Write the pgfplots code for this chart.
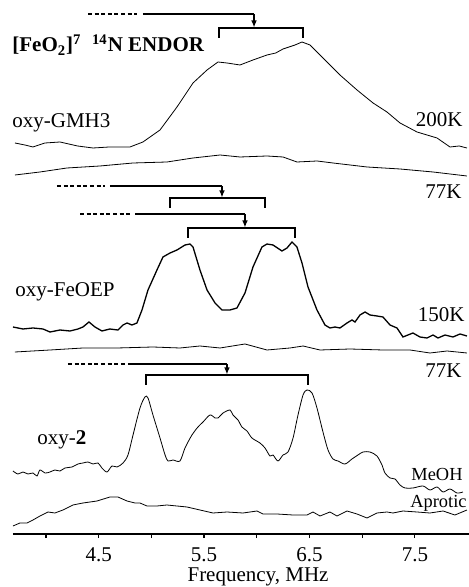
\documentclass[border=0pt]{standalone}
\usepackage{fontspec}
\setmainfont{Liberation Serif}
\usepackage{pgfplots}
\pgfplotsset{compat=1.18}
\usetikzlibrary{arrows.meta}
\begin{document}
\fontsize{10.5}{12}\selectfont
\begin{tikzpicture}
\begin{axis}[
  scale only axis, width=228pt, height=267pt,
  xmin=3.687, xmax=8.013, ymin=53, ymax=587,
  axis x line*=bottom, hide y axis,
  axis line style={line width=0.9pt,-},
  xtick={4.0,4.5,5.0,5.5,6.0,6.5,7.0,7.5},
  xticklabels={,4.5,,5.5,,6.5,,7.5},
  tick align=outside, major tick length=2pt,
  tick style={black, line width=0.6pt},
  /pgf/number format/assume math mode=true,
  xticklabel style={font=\fontsize{10.5}{12}\selectfont, yshift=-1pt},
  clip=false,
  cycle list={{black, solid, line width=0.65pt, no markers, smooth, tension=0.3}},
]
% oxy-GMH3 200K
\addplot coordinates {(3.706,444) (3.800,442) (3.877,440) (3.990,444) (4.133,445) (4.300,441) (4.446,439) (4.600,440) (4.797,440) (4.920,445) (5.082,457) (5.243,480) (5.395,504) (5.528,517) (5.632,525) (5.717,524) (5.841,522) (5.964,527) (6.097,532) (6.180,534) (6.249,538) (6.363,542) (6.429,545) (6.505,542) (6.628,529) (6.789,512) (6.951,497) (7.103,484) (7.235,475) (7.359,464) (7.520,455) (7.710,449) (7.833,440) (7.920,441) (7.994,439)};
% oxy-GMH3 77K
\addplot coordinates {(3.706,412) (3.943,415) (4.199,419) (4.512,421) (4.826,424) (5.148,425) (5.395,429) (5.651,432) (5.841,430) (6.097,431) (6.249,430) (6.381,425) (6.571,426) (6.723,424) (7.046,420) (7.359,418) (7.672,415) (7.994,411)};
% oxy-FeOEP 150K
\addplot coordinates {(3.687,260) (3.782,258) (3.877,259) (3.972,258) (4.038,255) (4.133,257) (4.228,256) (4.304,258) (4.351,260) (4.408,265) (4.465,260) (4.531,256) (4.607,258) (4.683,257) (4.731,262) (4.769,264) (4.816,262) (4.863,264) (4.911,277) (4.968,297) (5.053,317) (5.110,330) (5.177,334) (5.243,337) (5.319,342) (5.366,343) (5.395,340) (5.461,317) (5.528,297) (5.604,284) (5.670,277) (5.746,277) (5.812,279) (5.888,294) (5.964,320) (6.049,340) (6.097,343) (6.154,342) (6.239,336) (6.287,339) (6.334,345) (6.381,340) (6.429,324) (6.486,300) (6.571,277) (6.647,262) (6.694,259) (6.742,260) (6.789,259) (6.856,264) (6.903,267) (6.932,265) (6.979,272) (7.027,275) (7.074,272) (7.140,271) (7.197,270) (7.264,262) (7.330,259) (7.387,250) (7.482,254) (7.548,250) (7.615,249) (7.672,252) (7.719,249) (7.786,252) (7.861,250) (7.928,253) (7.994,251)};
% oxy-FeOEP 77K
\addplot coordinates {(3.706,235) (4.038,237) (4.351,239) (4.674,239) (5.015,240) (5.271,239) (5.461,241) (5.651,239) (5.888,243) (6.097,237) (6.315,239) (6.439,241) (6.600,237) (6.884,238) (7.197,237) (7.454,237) (7.643,234) (7.805,236) (7.994,234)};
% oxy-2 MeOH
\addplot coordinates {(3.687,116) (3.734,113) (3.782,115) (3.829,113) (3.877,114) (3.915,111) (3.943,117) (3.991,114) (4.038,115) (4.085,117) (4.133,116) (4.180,119) (4.247,120) (4.304,123) (4.351,124) (4.399,125) (4.446,123) (4.494,124) (4.531,119) (4.579,115) (4.626,121) (4.674,120) (4.731,124) (4.778,132) (4.826,152) (4.892,179) (4.939,190) (4.968,189) (5.015,172) (5.082,149) (5.130,132) (5.158,126) (5.205,127) (5.271,126) (5.319,139) (5.385,152) (5.442,160) (5.490,165) (5.556,172) (5.604,169) (5.632,169) (5.680,174) (5.746,177) (5.774,172) (5.822,167) (5.859,160) (5.907,156) (5.954,149) (6.030,144) (6.078,139) (6.125,131) (6.154,132) (6.201,126) (6.249,132) (6.296,135) (6.344,149) (6.391,172) (6.439,192) (6.476,197) (6.524,194) (6.571,179) (6.628,155) (6.676,137) (6.723,128) (6.771,126) (6.837,123) (6.903,128) (6.960,132) (7.008,135) (7.074,135) (7.140,131) (7.188,122) (7.216,114) (7.264,109) (7.311,108) (7.359,102) (7.406,99) (7.482,99) (7.577,101) (7.643,97) (7.710,100) (7.767,95) (7.833,98) (7.899,94) (7.956,95)};
% oxy-2 Aprotic
\addplot coordinates {(3.687,61) (3.753,64) (3.820,64) (3.877,67) (3.943,71) (4.019,75) (4.085,74) (4.161,77) (4.256,82) (4.351,84) (4.484,86) (4.607,90) (4.683,90) (4.769,86) (4.845,84) (4.892,84) (4.958,81) (5.053,81) (5.148,82) (5.243,81) (5.338,80) (5.461,77) (5.585,74) (5.717,75) (5.869,74) (6.002,76) (6.059,73) (6.192,73) (6.344,72) (6.476,72) (6.533,75) (6.600,71) (6.694,75) (6.761,71) (6.856,76) (6.951,73) (7.046,69) (7.140,74) (7.235,75) (7.292,74) (7.387,76) (7.520,75) (7.643,74) (7.767,76) (7.880,72) (7.994,77)};

% annotations
\tikzset{ann/.style={line width=0.6pt}, dsh/.style={line width=0.6pt, dash pattern=on 2pt off 1.3pt}, arr/.style={line width=0.6pt, -{Latex[length=3.5pt,width=2.8pt]}}}
% set A
\draw[dsh] (axis cs:4.399,573) -- (axis cs:4.863,573);
\draw[ann] (axis cs:4.920,573) -- (axis cs:5.974,573);
\draw[arr] (axis cs:5.974,573) -- (axis cs:5.974,559.5);
\draw[ann] (axis cs:5.641,549) |- (axis cs:6.438,559) -- (axis cs:6.438,549);
% set B
\draw[dsh] (axis cs:4.104,401) -- (axis cs:4.560,401);
\draw[ann] (axis cs:4.607,401) -- (axis cs:5.670,401);
\draw[arr] (axis cs:5.670,401) -- (axis cs:5.670,389.5);
\draw[ann] (axis cs:5.177,379) |- (axis cs:6.078,389) -- (axis cs:6.078,379);
% set C
\draw[dsh] (axis cs:4.323,373) -- (axis cs:4.797,373);
\draw[ann] (axis cs:4.845,373) -- (axis cs:5.888,373);
\draw[arr] (axis cs:5.888,373) -- (axis cs:5.888,359.5);
\draw[ann] (axis cs:5.347,349) |- (axis cs:6.363,359) -- (axis cs:6.363,349);
% set D
\draw[dsh] (axis cs:4.209,223) -- (axis cs:4.750,223);
\draw[ann] (axis cs:4.778,223) -- (axis cs:5.717,223);
\draw[arr] (axis cs:5.717,223) -- (axis cs:5.717,212.5);
\draw[ann] (axis cs:4.949,202) |- (axis cs:6.486,212) -- (axis cs:6.486,202);

% labels
\node[anchor=base west, inner sep=0pt, font=\bfseries] at (axis cs:3.678,535) {[FeO\textsubscript{2}]\textsuperscript{7}\ \ \textsuperscript{14}N ENDOR};
\node[anchor=base west, inner sep=0pt] at (axis cs:3.678,459) {oxy-GMH3};
\node[anchor=base east, inner sep=0pt] at (axis cs:7.956,460) {200K};
\node[anchor=base east, inner sep=0pt] at (axis cs:7.946,388) {77K};
\node[anchor=base west, inner sep=0pt] at (axis cs:3.706,290) {oxy-FeOEP};
\node[anchor=base east, inner sep=0pt] at (axis cs:7.975,265) {150K};
\node[anchor=base east, inner sep=0pt] at (axis cs:7.946,209) {77K};
\node[anchor=base west, inner sep=0pt] at (axis cs:3.915,142) {oxy-\textbf{2}};
\node[anchor=base east, inner sep=0pt, font=\fontsize{9.2}{11}\selectfont] at (axis cs:7.956,107) {MeOH};
\node[anchor=base east, inner sep=0pt, font=\fontsize{9.2}{11}\selectfont] at (axis cs:7.994,79) {Aprotic};
\node[anchor=base, inner sep=0pt] at (axis cs:6.012,6) {Frequency, MHz};

\coordinate (bl) at (axis cs:3.564,0);
\coordinate (tr) at (axis cs:8.013,587);
\end{axis}
\pgfresetboundingbox
\path (bl) rectangle (tr);
\end{tikzpicture}
\end{document}
